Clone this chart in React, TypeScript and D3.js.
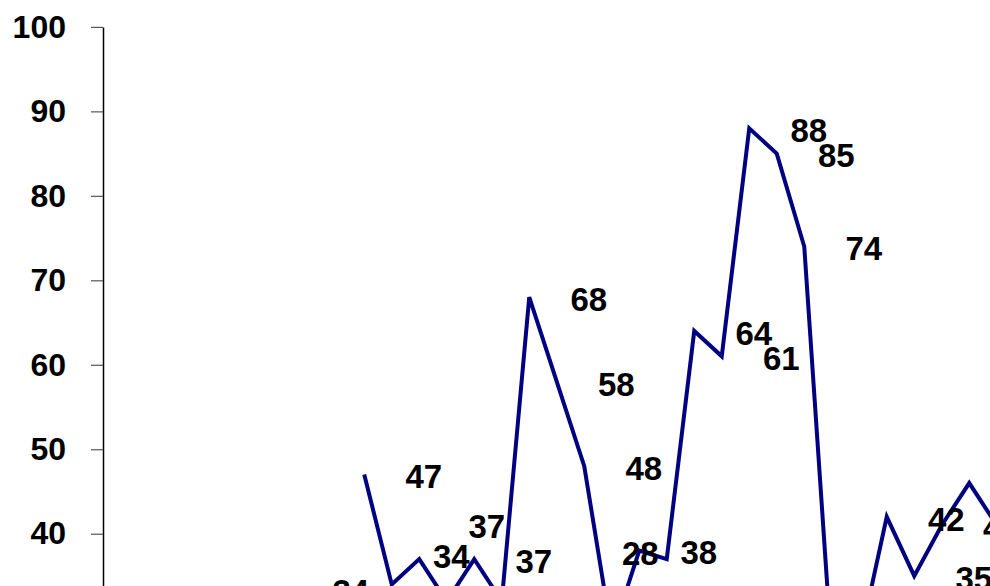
import React, { useEffect, useRef } from 'react';
import * as d3 from 'd3';

// x categories (the axis labels themselves sit below the visible area)
const categories = [
  '1', '2', '3', '4', '5', '6', '7', '8', '9', '10', '11',
  '12', '13', '14', '15', '16', '17', '18', '19', '20', '21', '22',
  '23', '24', '25', '26', '27', '28', '29', '30', '31', '32', '33',
];

// series values, null = no point
const values: (number | null)[] = [
  null, null, null, null, null, null, null, 34, null, 47, 34,
  37, 32, 37, 32, 68, 58, 48, 28, 38, 37, 64,
  61, 88, 85, 74, 26, 27, 42, 35, 41, 46, 41,
];

const yTicks = [0, 10, 20, 30, 40, 50, 60, 70, 80, 90, 100];

// labels that were dragged away from their default spot (index -> pixel nudge)
const labelNudges: Record<number, [number, number]> = {
  7: [-18, 5],
  10: [0, -30],
  11: [8, -35],
  18: [-31, -84],
};
const hiddenLabels = [20];

const W = 990;
const H = 586;
const FONT = '"Liberation Sans", Arial, sans-serif';

export default function App() {
  const ref = useRef<SVGSVGElement>(null);

  useEffect(() => {
    document.body.style.margin = '0';
    if (!ref.current) return;
    const svg = d3.select(ref.current);
    svg.selectAll('*').remove();

    const x = d3.scaleBand<string>()
      .domain(categories)
      .range([103, 103 + 27.5 * categories.length])
      .padding(0);
    const y = d3.scaleLinear().domain([0, 100]).range([871.6, 26.9]);
    const cx = (i: number) => (x(categories[i]) ?? 0) + x.bandwidth() / 2;

    // y axis
    const yAxis = svg.append('g')
      .attr('transform', 'translate(103,0)')
      .call(d3.axisLeft(y).tickValues(yTicks).tickSize(12).tickSizeOuter(0).tickPadding(25));
    yAxis.select('.domain').attr('stroke', '#000').attr('stroke-width', 1.5);
    yAxis.selectAll('.tick line').attr('stroke', '#555').attr('stroke-width', 1.2);
    yAxis.selectAll('.tick text')
      .attr('fill', '#000')
      .attr('font-family', FONT)
      .attr('font-weight', 'bold')
      .attr('font-size', 32);

    // line
    const pts = values.map((v, i) => ({ i, v }));
    const line = d3.line<{ i: number; v: number | null }>()
      .defined(d => d.v != null)
      .x(d => cx(d.i))
      .y(d => y(d.v as number));
    svg.append('path')
      .datum(pts)
      .attr('d', line)
      .attr('fill', 'none')
      .attr('stroke', '#000080')
      .attr('stroke-width', 4)
      .attr('stroke-linejoin', 'miter');

    // data labels, placed to the right of each point
    svg.append('g')
      .selectAll('text')
      .data(pts.filter(d => d.v != null && !hiddenLabels.includes(d.i)))
      .join('text')
      .attr('x', d => cx(d.i) + 59.5 + (labelNudges[d.i]?.[0] ?? 0))
      .attr('y', d => y(d.v as number) + 2 + (labelNudges[d.i]?.[1] ?? 0))
      .attr('dy', '0.36em')
      .attr('text-anchor', 'middle')
      .attr('font-family', FONT)
      .attr('font-weight', 'bold')
      .attr('font-size', 33)
      .attr('fill', '#000')
      .text(d => String(d.v));
  }, []);

  return (
    <svg
      ref={ref}
      width={W}
      height={H}
      style={{ display: 'block', background: '#fff', overflow: 'hidden' }}
    />
  );
}
